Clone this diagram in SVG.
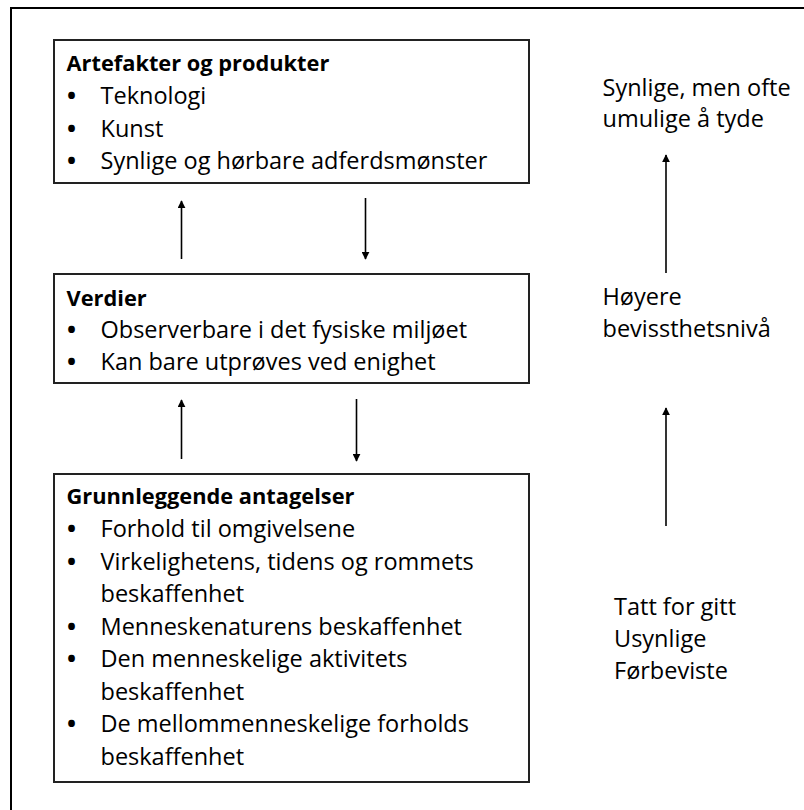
<svg xmlns="http://www.w3.org/2000/svg" width="804" height="810" viewBox="0 0 804 810">
<style>
.box{fill:#fff;stroke:#222;stroke-width:2}
.t{font-family:"Open Sans","Liberation Sans",sans-serif;font-size:23.5px;fill:#000}
.b{font-family:"Open Sans","Liberation Sans",sans-serif;font-size:24px;font-weight:bold;fill:#000}
.h{font-family:"Open Sans","Liberation Sans",sans-serif;font-size:21.8px;font-weight:bold;fill:#000}
.c{stroke:#000;stroke-width:1.6;fill:none;marker-end:url(#ah)}
</style>
<defs>
<marker id="ah" viewBox="0 0 10 10" refX="9" refY="5" markerWidth="5" markerHeight="5" orient="auto" markerUnits="strokeWidth">
<path d="M0,0 L10,5 L0,10 z" fill="#000"/>
</marker>
</defs>
<rect x="0" y="0" width="804" height="810" fill="#fff"/>
<rect x="11" y="8" width="900" height="900" fill="none" stroke="#000" stroke-width="2"/>

<g id="artefakter">
<rect class="box" x="54" y="40" width="475" height="143"/>
<text class="h" x="66.5" y="71">Artefakter og produkter</text>
<text class="b" x="67" y="104">•</text><text class="t" x="100.5" y="104">Teknologi</text>
<text class="b" x="67" y="136.5">•</text><text class="t" x="100.5" y="136.5">Kunst</text>
<text class="b" x="67" y="169">•</text><text class="t" x="100.5" y="169">Synlige og hørbare adferdsmønster</text>
</g>

<g id="verdier">
<rect class="box" x="54" y="274" width="475" height="109"/>
<text class="h" x="66.5" y="305.5">Verdier</text>
<text class="b" x="67" y="338">•</text><text class="t" x="100.5" y="338">Observerbare i det fysiske miljøet</text>
<text class="b" x="67" y="370">•</text><text class="t" x="100.5" y="370">Kan bare utprøves ved enighet</text>
</g>

<g id="antagelser">
<rect class="box" x="54" y="474" width="475" height="308"/>
<text class="h" x="66.5" y="504">Grunnleggende antagelser</text>
<text class="b" x="67" y="537">•</text><text class="t" x="100.5" y="537">Forhold til omgivelsene</text>
<text class="b" x="67" y="569.5">•</text><text class="t" x="100.5" y="569.5">Virkelighetens, tidens og rommets</text>
<text class="t" x="100.5" y="602">beskaffenhet</text>
<text class="b" x="67" y="634.5">•</text><text class="t" x="100.5" y="634.5">Menneskenaturens beskaffenhet</text>
<text class="b" x="67" y="667">•</text><text class="t" x="100.5" y="667">Den menneskelige aktivitets</text>
<text class="t" x="100.5" y="699.5">beskaffenhet</text>
<text class="b" x="67" y="732">•</text><text class="t" x="100.5" y="732">De mellommenneskelige forholds</text>
<text class="t" x="100.5" y="764.5">beskaffenhet</text>
</g>

<g id="synlige">
<text class="t" x="602.5" y="96">Synlige, men ofte</text>
<text class="t" x="602.5" y="127">umulige å tyde</text>
</g>
<g id="hoyere">
<text class="t" x="602.5" y="305">Høyere</text>
<text class="t" x="602.5" y="337">bevissthetsnivå</text>
</g>
<g id="tatt">
<text class="t" x="614" y="615">Tatt for gitt</text>
<text class="t" x="614" y="647">Usynlige</text>
<text class="t" x="614" y="679">Førbeviste</text>
</g>

<g id="connectors">
<line class="c" x1="181.5" y1="259" x2="181.5" y2="201"/>
<line class="c" x1="365.5" y1="198" x2="365.5" y2="259"/>
<line class="c" x1="181.5" y1="459" x2="181.5" y2="400"/>
<line class="c" x1="356.5" y1="399" x2="356.5" y2="461"/>
<line class="c" x1="666" y1="273" x2="666" y2="155"/>
<line class="c" x1="666" y1="526" x2="666" y2="408"/>
</g>
</svg>
